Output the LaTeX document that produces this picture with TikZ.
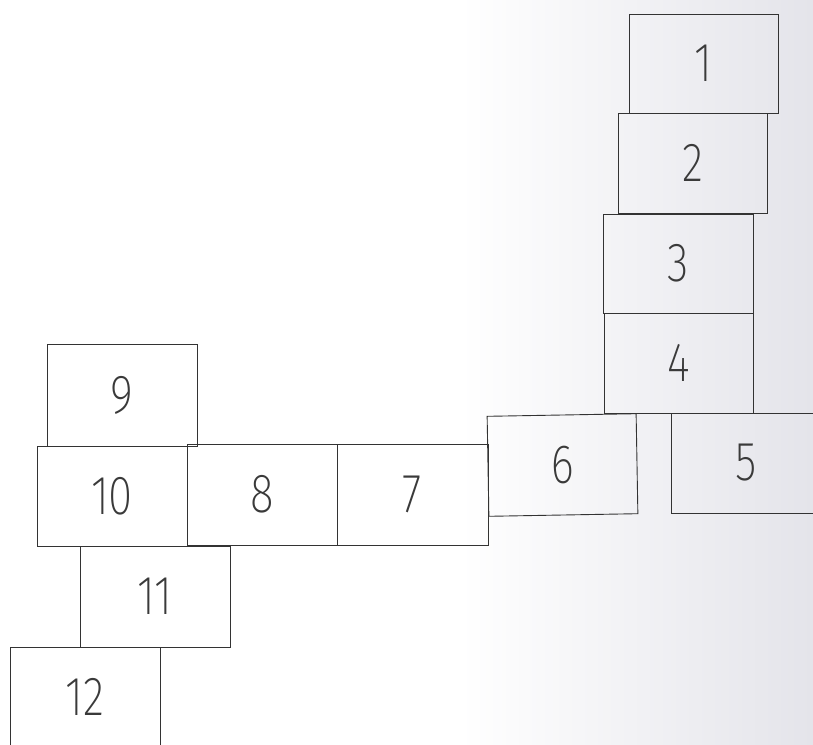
\documentclass[tikz,border=0pt]{standalone}
\usepackage{fontspec}
\newfontfamily\digitfont{Fira Sans ExtraLight}[FakeStretch=0.8]
\definecolor{lineC}{HTML}{333333}
\definecolor{textC}{HTML}{3A3A3A}
\definecolor{bgR}{HTML}{E4E4EA}
\tikzset{
  blk/.style={draw=lineC, line width=0.9pt, inner sep=0pt, font=\digitfont\fontsize{55}{55}\selectfont, text=textC},
}
\begin{document}
\begin{tikzpicture}[x=1pt,y=-1pt]
\useasboundingbox (0,0) rectangle (813,744);
\clip (0,0) rectangle (813,744);
\fill[white] (0,0) rectangle (460,744);
\shade[left color=white, right color=bgR] (460,0) rectangle (813,744);
\node[blk, minimum width=149pt, minimum height=99pt] (b1) at (703.5,63.5) {1};
\node[blk, minimum width=149pt, minimum height=100pt] (b2) at (692.5,163) {2};
\node[blk, minimum width=150pt, minimum height=99pt] (b3) at (678,263.5) {3};
\node[blk, minimum width=149pt, minimum height=100pt] (b4) at (678.5,363) {4};
\node[blk, minimum width=150pt, minimum height=100pt] (b5) at (746,463) {5};
\node[blk, minimum width=149pt, minimum height=100pt, rotate=1] (b6) at (562.5,465) {6};
\node[blk, minimum width=151pt, minimum height=101pt] (b7) at (412.5,494.5) {7};
\node[blk, minimum width=150pt, minimum height=101pt] (b8) at (262,494.5) {8};
\node[blk, minimum width=150pt, minimum height=102pt] (b9) at (122,395) {9};
\node[blk, minimum width=150pt, minimum height=100pt] (b10) at (112,496) {10};
\node[blk, minimum width=150pt, minimum height=101pt] (b11) at (155,596.5) {11};
\node[blk, minimum width=150pt, minimum height=100pt] (b12) at (85,697) {12};
\end{tikzpicture}
\end{document}
